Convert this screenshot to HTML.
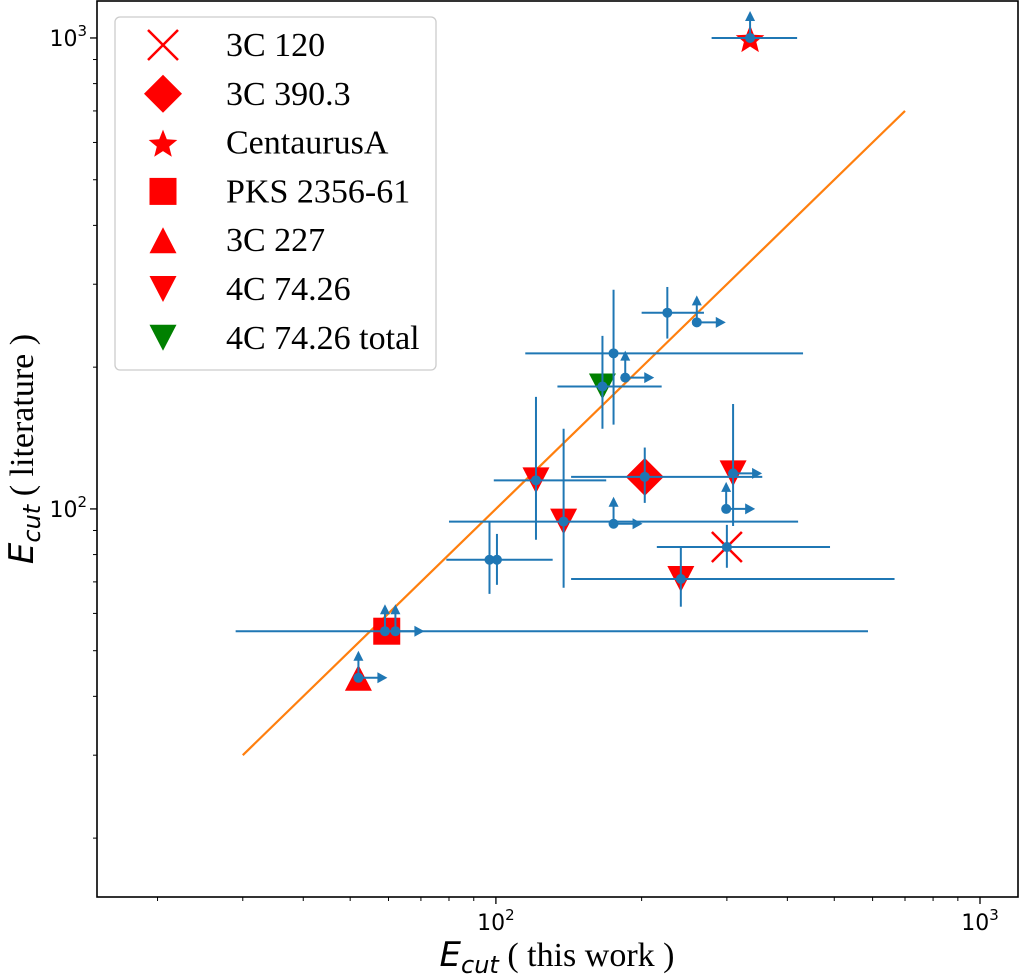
<!DOCTYPE html>
<html><head><meta charset="utf-8"><style>
html,body{margin:0;padding:0;background:#fff;}
svg{display:block;}
</style></head><body>
<svg id="chart" width="1020" height="974" viewBox="0 0 1020 974" xmlns="http://www.w3.org/2000/svg">
<g id="plot"></g>
<g id="axes"></g>
<text x="557" y="966" text-anchor="middle" font-size="34" font-family="Liberation Serif, serif"><tspan font-family="DejaVu Sans, sans-serif" font-style="italic">E</tspan><tspan font-family="DejaVu Sans, sans-serif" font-style="italic" font-size="24" dy="7">cut</tspan><tspan dy="-7"> ( this work )</tspan></text>
<text transform="translate(33,449) rotate(-90)" text-anchor="middle" font-size="34" font-family="Liberation Serif, serif"><tspan font-family="DejaVu Sans, sans-serif" font-style="italic">E</tspan><tspan font-family="DejaVu Sans, sans-serif" font-style="italic" font-size="24" dy="7">cut</tspan><tspan dy="-7"> ( literature )</tspan></text>
<g id="legend"></g>
</svg>
<script>
// ---- data ----
const ptX  = [335,226,260,175,185,166,121,203,309,138,175,299,300,241,97,100.5,59,62,52];
const ptY  = [1000,261,249,214,190,182,115,117,119,94,93,100,83,71,78,78,55,55,43.8];
const xLo  = [279,200,null,115,null,134,99,143,null,80,null,null,215,143,79,null,29,null,null];
const xHi  = [419,269,null,431,null,220,169,355,null,421,null,null,490,666,131,null,587,null,null];
const yLo  = [null,230,null,151,null,148,86,103,92,68,null,null,75,62,66,69,null,null,null];
const yHi  = [null,296,null,292,null,233,173,135,167,148,null,null,92.5,83,94,88.5,null,null,null];
const xLim = [0,0,1,0,1,0,0,0,1,0,1,1,0,0,0,0,0,1,1];
const yLim = [1,0,1,0,1,0,0,0,0,0,1,1,0,0,0,0,1,1,1];
const refNames = ["3C 120","3C 390.3","CentaurusA","PKS 2356-61","3C 227","4C 74.26","4C 74.26 total"];
const refShape = ["x","diamond","star","square","tri-up","tri-down","tri-down"];
const refColor = ["#ff0000","#ff0000","#ff0000","#ff0000","#ff0000","#ff0000","#008000"];
const refX = [300,203,335,59.5,52,121,138,309,241,166];
const refY = [83,117,1000,55,43.8,115,94,119,71,182];
const refIdx = [0,1,2,3,4,5,5,5,5,6];
const fitX = [30,700];
const fitY = [30,700];
const xTickVals = [100,1000];
const xTickLabels = ["2","3"];
const yTickVals = [100,1000];
const yTickLabels = ["2","3"];
const minorVals = [20,30,40,50,60,70,80,90,200,300,400,500,600,700,800,900];

// ---- axes ----
const L=97,R=1018,T=1,B=897;
const lmin=1.176,lmax=3.0785;
const sx=v=>L+(Math.log10(v)-lmin)/(lmax-lmin)*(R-L);
const sy=v=>B-(Math.log10(v)-lmin)/(lmax-lmin)*(B-T);
const NS="http://www.w3.org/2000/svg";
function mk(tag,attrs,parent){const e=document.createElementNS(NS,tag);for(const k in attrs)e.setAttribute(k,attrs[k]);parent.appendChild(e);return e;}
const plot=document.getElementById('plot'),axes=document.getElementById('axes'),leg=document.getElementById('legend');
const BLUE="#1f77b4";

function marker(shape,cx,cy,color,parent,s){
  s=s||1;let e;
  if(shape==="x"){e=mk('path',{d:`M${cx-15*s},${cy-15*s}L${cx+15*s},${cy+15*s}M${cx-15*s},${cy+15*s}L${cx+15*s},${cy-15*s}`,stroke:color,'stroke-width':2.5,fill:'none'},parent);}
  else if(shape==="diamond"){const r=19*s;e=mk('path',{d:`M${cx},${cy-r}L${cx+r},${cy}L${cx},${cy+r}L${cx-r},${cy}Z`,fill:color},parent);}
  else if(shape==="square"){const r=13.5*s;e=mk('rect',{x:cx-r,y:cy-r,width:2*r,height:2*r,fill:color},parent);}
  else if(shape==="tri-up"){e=mk('path',{d:`M${cx},${cy-13}L${cx+13.5},${cy+13}L${cx-13.5},${cy+13}Z`,fill:color},parent);}
  else if(shape==="tri-down"){e=mk('path',{d:`M${cx},${cy+13}L${cx+13.5},${cy-13}L${cx-13.5},${cy-13}Z`,fill:color},parent);}
  else if(shape==="star"){let d="";for(let i=0;i<10;i++){const r=i%2?6.5:15;const a=-Math.PI/2+i*Math.PI/5;d+=(i?"L":"M")+(cx+r*Math.cos(a)).toFixed(1)+","+(cy+2+r*Math.sin(a)).toFixed(1);}e=mk('path',{d:d+"Z",fill:color},parent);}
  return e;
}

// frame
const frame=mk('rect',{x:L,y:T,width:R-L,height:B-T,fill:'none',stroke:'#000','stroke-width':1.6},axes);


xTickVals.forEach((v,i)=>{
  const x=sx(v);
  const t=mk('line',{x1:x,y1:B,x2:x,y2:B+7,stroke:'#000','stroke-width':1.3},axes);
  
  
  const tx=mk('text',{x:x,y:B+33,'text-anchor':'middle','font-size':22,'font-family':'DejaVu Sans, sans-serif'},axes);
  
  
  tx.innerHTML='10<tspan font-size="15" dy="-10">'+xTickLabels[i]+'</tspan>';
});
yTickVals.forEach((v,i)=>{
  const y=sy(v);
  const t=mk('line',{x1:L-7,y1:y,x2:L,y2:y,stroke:'#000','stroke-width':1.3},axes);
  
  
  const tx=mk('text',{x:L-10,y:y+8,'text-anchor':'end','font-size':22,'font-family':'DejaVu Sans, sans-serif'},axes);
  
  
  tx.innerHTML='10<tspan font-size="15" dy="-10">'+yTickLabels[i]+'</tspan>';
});
minorVals.forEach(v=>{
  const x=sx(v),y=sy(v);
  const a=mk('line',{x1:x,y1:B,x2:x,y2:B+4,stroke:'#000','stroke-width':1},axes);
  
  
  const b=mk('line',{x1:L-4,y1:y,x2:L,y2:y,stroke:'#000','stroke-width':1},axes);
  
  
});

// fit line
const fit=mk('line',{x1:sx(fitX[0]),y1:sy(fitY[0]),x2:sx(fitX[1]),y2:sy(fitY[1]),stroke:'#ff7f0e','stroke-width':2.2},plot);



// reference markers
refX.forEach((v,i)=>{
  const k=refIdx[i];
  const m=marker(refShape[k],sx(v),sy(refY[i]),refColor[k],plot);
  
  
});

// error bars and points
ptX.forEach((v,i)=>{
  const cx=sx(v),cy=sy(ptY[i]);
  const g=mk('g',{},plot);
  
  
  if(xLo[i]!==null) mk('line',{x1:sx(xLo[i]),y1:cy,x2:sx(xHi[i]),y2:cy,stroke:BLUE,'stroke-width':2},g);
  if(yLo[i]!==null) mk('line',{x1:cx,y1:sy(yLo[i]),x2:cx,y2:sy(yHi[i]),stroke:BLUE,'stroke-width':2},g);
  if(yLim[i]){mk('line',{x1:cx,y1:cy,x2:cx,y2:cy-18,stroke:BLUE,'stroke-width':2},g);
    mk('path',{d:`M${cx-5},${cy-17}L${cx+5},${cy-17}L${cx},${cy-27}Z`,fill:BLUE},g);}
  if(xLim[i]){mk('line',{x1:cx,y1:cy,x2:cx+20,y2:cy,stroke:BLUE,'stroke-width':2},g);
    mk('path',{d:`M${cx+19},${cy-5.5}L${cx+19},${cy+5.5}L${cx+29},${cy}Z`,fill:BLUE},g);}
  mk('circle',{cx:cx,cy:cy,r:5,fill:BLUE},g);
});

// legend
const lb=mk('rect',{x:115,y:17,width:321,height:353,rx:5,fill:'#fff','fill-opacity':0.8,stroke:'#cccccc','stroke-width':1.3},leg);


refNames.forEach((n,i)=>{
  const y=45+i*48.8;
  const g=mk('g',{},leg);
  
  
  marker(refShape[i],163,y,refColor[i],g);
  const t=mk('text',{x:226,y:y+11,'font-size':34,'font-family':'Liberation Serif, serif'},g);
  t.textContent=n;
});
</script>
</body></html>
